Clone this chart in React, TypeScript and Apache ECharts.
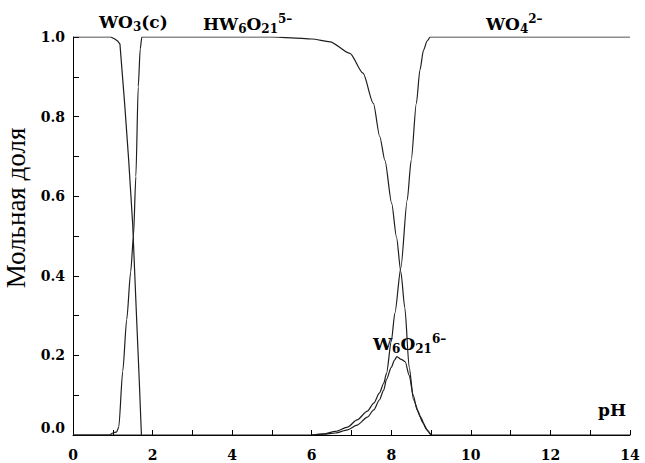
import React, { useEffect, useRef } from "react";
import * as echarts from "echarts";

// ---- data ----
const wo3Ph = [0, 0.95, 1.05, 1.12, 1.18, 1.3, 1.4, 1.5, 1.6, 1.66, 1.72];
const wo3Val = [1, 1, 0.995, 0.99, 0.982, 0.83, 0.69, 0.53, 0.29, 0.15, 0];

const hw6Ph = [0, 0.92, 1.0, 1.1, 1.15, 1.25, 1.35, 1.45, 1.52, 1.58, 1.64, 1.69, 1.73, 5.0, 5.5, 6.0, 6.46, 6.96, 7.29, 7.55, 7.71, 7.84, 8.01, 8.13, 8.24, 8.34, 8.45, 8.56, 8.73, 8.88, 9.0, 14];
const hw6Val = [0, 0, 0.005, 0.008, 0.02, 0.16, 0.29, 0.41, 0.5, 0.65, 0.875, 0.97, 1.0, 1.0, 0.998, 0.995, 0.988, 0.959, 0.909, 0.833, 0.75, 0.69, 0.582, 0.498, 0.41, 0.32, 0.17, 0.088, 0.046, 0.015, 0, 0];

const w6Ph = [6.0, 6.3, 6.6, 6.9, 7.14, 7.4, 7.56, 7.7, 7.81, 7.88, 8.0, 8.08, 8.14, 8.25, 8.35, 8.45, 8.55, 8.65, 8.8, 8.92, 9.0];
const w6Val = [0, 0.002, 0.005, 0.013, 0.025, 0.045, 0.063, 0.088, 0.113, 0.14, 0.17, 0.188, 0.197, 0.19, 0.184, 0.15, 0.1, 0.063, 0.03, 0.01, 0];

const wo4Ph = [0, 6.0, 6.3, 6.6, 6.9, 7.14, 7.4, 7.56, 7.7, 7.81, 7.88, 8.0, 8.09, 8.24, 8.4, 8.5, 8.63, 8.72, 8.81, 8.9, 8.98, 14];
const wo4Val = [0, 0, 0.003, 0.009, 0.02, 0.038, 0.06, 0.08, 0.105, 0.13, 0.155, 0.235, 0.306, 0.42, 0.59, 0.69, 0.833, 0.917, 0.967, 0.99, 1.0, 1.0];

const xTicks = [0, 2, 4, 6, 8, 10, 12, 14];
const yTicks = [0, 0.2, 0.4, 0.6, 0.8, 1.0];

const zip = (xs: number[], ys: number[]) => xs.map((x, i) => [x, ys[i]]);

const SERIF = "'Liberation Serif', 'Times New Roman', serif";
const BSERIF = "'DejaVu Serif', serif";

const richStyles = {
  m: { fontFamily: BSERIF, fontWeight: "bold", fontSize: 17, lineHeight: 22, verticalAlign: "middle", fill: "#000" },
  sb: { fontFamily: BSERIF, fontWeight: "bold", fontSize: 12, lineHeight: 12, verticalAlign: "bottom", fill: "#000" },
  sp: { fontFamily: BSERIF, fontWeight: "bold", fontSize: 12, lineHeight: 12, verticalAlign: "top", fill: "#000" },
};

const label = (left: number, top: number, text: string) => ({
  type: "text",
  left,
  top,
  silent: true,
  style: { text, rich: richStyles, fill: "#000", font: `bold 17px ${BSERIF}` },
});

export default function App() {
  const ref = useRef<HTMLDivElement>(null);
  useEffect(() => {
    document.body.style.margin = "0";
    if (!ref.current) return;
    const chart = echarts.init(ref.current, undefined, { renderer: "svg" });
    const lineStyle = { color: "#1e1e1e", width: 1.2 };
    const mk = (name: string, xs: number[], ys: number[], smooth: number) => ({
      name,
      type: "line",
      data: zip(xs, ys),
      showSymbol: false,
      symbol: "none",
      smooth,
      smoothMonotone: "x",
      lineStyle,
      itemStyle: { color: "#1e1e1e" },
      z: 3,
    });
    chart.setOption({
      animation: false,
      backgroundColor: "#fff",
      grid: { left: 73, right: 15, top: 37, bottom: 28, containLabel: false, outerBoundsMode: "none" },
      xAxis: {
        type: "value",
        min: xTicks[0],
        max: xTicks[xTicks.length - 1],
        interval: 2,
        axisLine: { show: true, lineStyle: { color: "#000", width: 1 } },
        axisTick: { show: true, inside: true, length: 5, lineStyle: { color: "#000" } },
        minorTick: { show: true, splitNumber: 2, length: 5, lineStyle: { color: "#000" } },
        splitLine: { show: false },
        axisLabel: { color: "#000", fontFamily: BSERIF, fontWeight: "bold", fontSize: 14, margin: 13 },
      },
      yAxis: {
        type: "value",
        min: yTicks[0],
        max: yTicks[yTicks.length - 1],
        interval: 0.2,
        name: "Мольная доля",
        nameLocation: "middle",
        nameGap: 40,
        nameTextStyle: { color: "#000", fontFamily: SERIF, fontSize: 27, fontWeight: "normal", padding: [0, 0, 0, 56] },
        axisLine: { show: true, lineStyle: { color: "#000", width: 1 } },
        axisTick: { show: true, inside: true, length: 6, lineStyle: { color: "#000" } },
        minorTick: { show: true, splitNumber: 2, length: 6, lineStyle: { color: "#000" } },
        splitLine: { show: false },
        axisLabel: {
          color: "#000",
          fontFamily: BSERIF,
          fontWeight: "bold",
          fontSize: 14,
          margin: 8,
          formatter: (v: number) => (v === 0 ? "{z|0.0}" : v.toFixed(1)),
          rich: { z: { fontFamily: BSERIF, fontWeight: "bold", fontSize: 14, padding: [0, 0, 14, 0] } },
        },
      },
      series: [
        mk("WO3(c)", wo3Ph, wo3Val, 0),
        mk("HW6O21", hw6Ph, hw6Val, 0.25),
        mk("W6O21", w6Ph, w6Val, 0.25),
        mk("WO4", wo4Ph, wo4Val, 0.25),
      ],
      graphic: [
        label(99, 13, "{m|WO}{sb|3}{m|(c)}"),
        label(203, 13, "{m|HW}{sb|6}{m|O}{sb|21}{sp|5–}"),
        label(486, 13, "{m|WO}{sb|4}{sp|2–}"),
        label(373, 333, "{m|W}{sb|6}{m|O}{sb|21}{sp|6–}"),
        label(598, 401, "{m|pH}"),
      ],
    });
    return () => chart.dispose();
  }, []);
  return <div ref={ref} style={{ width: 645, height: 463 }} />;
}
